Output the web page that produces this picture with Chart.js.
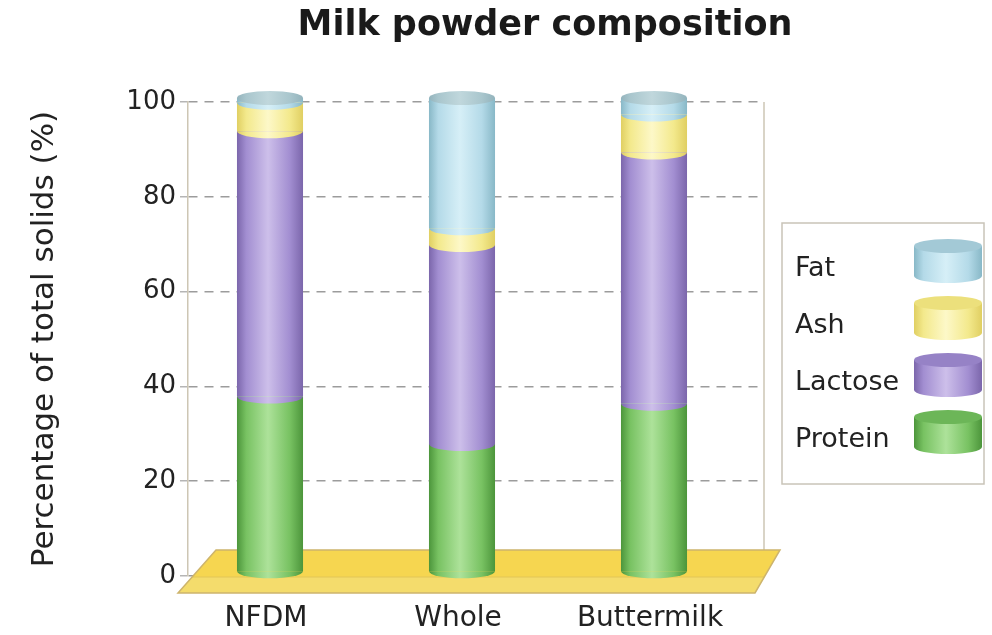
<!DOCTYPE html>
<html>
<head>
<meta charset="utf-8">
<title>Milk powder composition</title>
<script src="https://cdn.jsdelivr.net/npm/chart.js@4.4.1/dist/chart.umd.min.js"></script>
<style>
  html, body { margin: 0; padding: 0; background: #ffffff; }
  canvas { display: block; }
</style>
</head>
<body>
<canvas id="chart" width="992" height="635"></canvas>
<script>
// Composition of milk powders, % of total solids (stacked bottom to top)
const categories = ['NFDM', 'Whole', 'Buttermilk'];
const protein = [37, 27, 35.5];
const lactose = [56, 42, 53];
const ash = [6, 3.5, 8];
const fat = [1, 27.5, 3.5];

const chartTitle = 'Milk powder composition';
const yAxisTitle = 'Percentage of total solids (%)';

// Cylinder shading: [edge, body, highlight, top face]
const shades = {
  Protein: ['#4c953b', '#78c262', '#ade29a', '#6cb658'],
  Lactose: ['#7b66ab', '#a28ed1', '#cdbfea', '#9682c6'],
  Ash:     ['#e0cf62', '#f3e98c', '#fdf8c8', '#ece07c'],
  Fat:     ['#88b8c7', '#b4dae8', '#d6eff7', '#a3c9d6']
};
const capShade = ['#93b3bc', '#a9c6cd', '#c0d7dc'];
const FONT = "'DejaVu Sans', 'Open Sans', sans-serif";
const DEPTH = { x: -14, y: -4 };   // bars stand on the front of the floor
const RY = 7;                      // ellipse half-height of cylinder faces

function cylGradient(ctx, left, right, s) {
  const g = ctx.createLinearGradient(left, 0, right, 0);
  g.addColorStop(0, s[0]);
  g.addColorStop(0.14, s[1]);
  g.addColorStop(0.47, s[2]);
  g.addColorStop(0.8, s[1]);
  g.addColorStop(1, s[0]);
  return g;
}

// Floor slab, back walls and cylinder rendering
const cylinders = {
  id: 'cylinders',
  beforeDatasetsDraw(chart) {
    const { ctx, chartArea: a } = chart;
    ctx.save();
    // right wall edge
    ctx.strokeStyle = '#cdc6b4';
    ctx.lineWidth = 1.5;
    ctx.beginPath();
    ctx.moveTo(a.right, a.top);
    ctx.lineTo(a.right, a.bottom - 26);
    ctx.stroke();
    // floor
    const tL = [a.left + 28, a.bottom - 26], tR = [a.right + 16, a.bottom - 26];
    const bL = [a.left - 10, a.bottom + 17], bR = [a.right - 9, a.bottom + 17];
    ctx.beginPath();
    ctx.moveTo(tL[0], tL[1]); ctx.lineTo(tR[0], tR[1]);
    ctx.lineTo(bR[0], bR[1]); ctx.lineTo(bL[0], bL[1]); ctx.closePath();
    ctx.fillStyle = '#f6d650';
    ctx.fill();
    const t = 27 / 43;
    const mL = [tL[0] + (bL[0] - tL[0]) * t, a.bottom + 1];
    const mR = [tR[0] + (bR[0] - tR[0]) * t, a.bottom + 1];
    ctx.beginPath();
    ctx.moveTo(mL[0], mL[1]); ctx.lineTo(mR[0], mR[1]);
    ctx.lineTo(bR[0], bR[1]); ctx.lineTo(bL[0], bL[1]); ctx.closePath();
    ctx.fillStyle = '#f4dc6c';
    ctx.fill();
    ctx.strokeStyle = '#e2c557';
    ctx.lineWidth = 1.2;
    ctx.beginPath(); ctx.moveTo(mL[0], mL[1]); ctx.lineTo(mR[0], mR[1]); ctx.stroke();
    ctx.strokeStyle = '#cdb46c';
    ctx.lineWidth = 1.5;
    ctx.beginPath();
    ctx.moveTo(tL[0], tL[1]); ctx.lineTo(tR[0], tR[1]);
    ctx.lineTo(bR[0], bR[1]); ctx.lineTo(bL[0], bL[1]); ctx.closePath();
    ctx.stroke();
    ctx.restore();

    ctx.save();
    ctx.translate(DEPTH.x, DEPTH.y);
    chart.data.datasets.forEach((ds, di) => {
      chart.getDatasetMeta(di).data.forEach(el => {
        const l = el.x - el.width / 2, r = el.x + el.width / 2;
        el.options = Object.assign({}, el.options, {
          backgroundColor: cylGradient(ctx, l, r, shades[ds.label])
        });
      });
    });
  },
  afterDatasetsDraw(chart) {
    const ctx = chart.ctx;
    const metas = chart.data.datasets.map((d, i) => chart.getDatasetMeta(i));
    chart.data.labels.forEach((lab, i) => {
      let top = null;
      metas.forEach((meta, di) => {
        const el = meta.data[i];
        const rx = el.width / 2;
        ctx.fillStyle = cylGradient(ctx, el.x - rx, el.x + rx, shades[chart.data.datasets[di].label]);
        ctx.beginPath();
        ctx.ellipse(el.x, el.base, rx, RY, 0, 0, Math.PI);
        ctx.fill();
        top = el;
      });
      const rx = top.width / 2;
      ctx.fillStyle = cylGradient(ctx, top.x - rx, top.x + rx, capShade);
      ctx.beginPath();
      ctx.ellipse(top.x, top.y, rx, RY, 0, 0, Math.PI * 2);
      ctx.fill();
    });
    ctx.restore();
  },
  afterDraw(chart) {
    const ctx = chart.ctx;
    ctx.save();
    // title
    ctx.fillStyle = '#1a1a1a';
    ctx.font = 'bold 35px ' + FONT;
    ctx.textAlign = 'center';
    ctx.textBaseline = 'middle';
    ctx.fillText(chartTitle, 545, 26);

    // legend box with cylinder keys
    const bx = 782, by = 223, bw = 202, bh = 261;
    ctx.strokeStyle = '#c9c4b8';
    ctx.lineWidth = 1.5;
    ctx.strokeRect(bx, by, bw, bh);
    const items = chart.data.datasets.map(d => d.label).reverse();
    ctx.font = '27px ' + FONT;
    ctx.textAlign = 'left';
    items.forEach((name, k) => {
      const ty = 269 + 57 * k;
      ctx.fillStyle = '#222222';
      ctx.fillText(name, 795, ty);
      const s = shades[name];
      const cx = 948, cy = 261 + 57 * k, rx = 34, h = 15;
      const g = cylGradient(ctx, cx - rx, cx + rx, s);
      ctx.fillStyle = g;
      ctx.fillRect(cx - rx, cy - h, rx * 2, h * 2);
      ctx.beginPath();
      ctx.ellipse(cx, cy + h, rx, RY, 0, 0, Math.PI);
      ctx.fill();
      ctx.fillStyle = s[3];
      ctx.beginPath();
      ctx.ellipse(cx, cy - h, rx, RY, 0, 0, Math.PI * 2);
      ctx.fill();
    });
    ctx.restore();
  }
};

const names = ['Protein', 'Lactose', 'Ash', 'Fat'];
const values = [protein, lactose, ash, fat];

new Chart(document.getElementById('chart'), {
  type: 'bar',
  data: {
    labels: categories,
    datasets: names.map((n, i) => ({
      label: n,
      data: values[i],
      backgroundColor: shades[n][1],
      borderWidth: 0,
      categoryPercentage: 1,
      barPercentage: 0.344,
      clip: false
    }))
  },
  options: {
    responsive: false,
    animation: false,
    devicePixelRatio: 1,
    layout: { padding: { top: 102, right: 228, bottom: 0, left: 0 } },
    plugins: {
      legend: { display: false },
      title: { display: false },
      tooltip: { enabled: false }
    },
    scales: {
      x: {
        stacked: true,
        afterFit(s) { s.height = 59; },
        grid: { display: false, drawTicks: false },
        border: { display: false },
        ticks: {
          color: '#222222',
          font: { family: FONT, size: 28 },
          padding: 26,
          labelOffset: -18,
          maxRotation: 0
        }
      },
      y: {
        stacked: true,
        min: 0,
        max: 100,
        afterFit(s) { s.width = 188; },
        ticks: {
          stepSize: 20,
          color: '#222222',
          font: { family: FONT, size: 26 },
          padding: 4
        },
        grid: {
          color: '#9c9c9c',
          lineWidth: 1.5,
          tickLength: 8,
          tickColor: '#b5b5b5'
        },
        border: { display: true, color: '#cdc6b4', width: 1.5, dash: [9, 7] },
        title: {
          display: true,
          text: yAxisTitle,
          color: '#222222',
          font: { family: FONT, size: 31 },
          padding: { top: 26, bottom: 0 }
        }
      }
    }
  },
  plugins: [cylinders]
});
</script>
</body>
</html>
